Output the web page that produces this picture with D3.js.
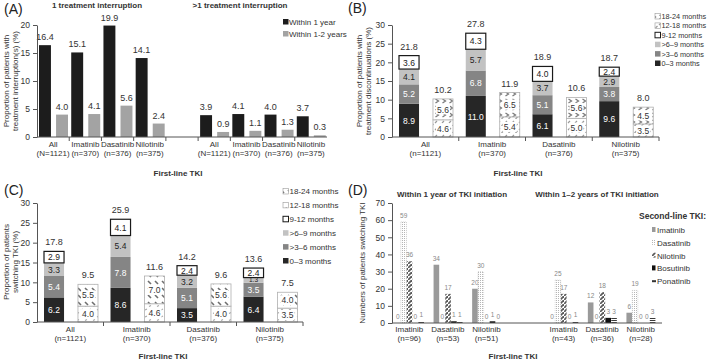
<!DOCTYPE html>
<html><head><meta charset="utf-8">
<script src="https://cdn.jsdelivr.net/npm/d3@7"></script>
<style>body{margin:0;background:#fff}svg{display:block}</style>
</head><body>
<script>
// ---------------- DATA ----------------
// Panel A
const aCategories = ["All","Imatinib","Dasatinib","Nilotinib"];
const aCategoryN = ["(N=1121)","(n=370)","(n=376)","(n=375)"];
const aPanels = ["1 treatment interruption", ">1 treatment interruption"];
const aSeries = ["Within 1 year","Within 1-2 years"];
const aOneWithin1y = [16.4,15.1,19.9,14.1];
const aOneWithin1to2y = [4.0,4.1,5.6,2.4];
const aMultiWithin1y = [3.9,4.1,4.0,3.7];
const aMultiWithin1to2y = [0.9,1.1,1.3,0.3];
const aYTicks = [0,5,10,15,20];

// Panels B and C
const bcCategories = ["All","Imatinib","Dasatinib","Nilotinib"];
const bcCategoryN = ["(n=1121)","(n=370)","(n=376)","(n=375)"];
const periods = ["0–3 months",">3–6 months",">6–9 months","9-12 months","12-18 months","18-24 months"];
const bcYTicks = [0,5,10,15,20,25,30];
// B: treatment discontinuations
const b0to3 = [8.9,11.0,6.1,9.6];
const b3to6 = [5.2,6.8,5.1,3.8];
const b6to9 = [4.1,5.7,3.7,2.9];
const b9to12 = [3.6,4.3,4.0,2.4];
const b12to18 = [4.6,5.4,5.0,3.5];
const b18to24 = [5.6,6.5,5.6,4.5];
const bTotal1y = [21.8,27.8,18.9,18.7];
const bTotal2y = [10.2,11.9,10.6,8.0];
// C: switching TKI
const c0to3 = [6.2,8.6,3.5,6.4];
const c3to6 = [5.4,7.8,5.1,3.5];
const c6to9 = [3.3,5.4,3.2,1.3];
const c9to12 = [2.9,4.1,2.4,2.4];
const c12to18 = [4.0,4.6,4.0,3.5];
const c18to24 = [5.5,7.0,5.6,4.0];
const cTotal1y = [17.8,25.9,14.2,13.6];
const cTotal2y = [9.5,11.6,9.6,7.5];

// Panel D
const dPanels = ["Within 1 year of TKI initiation","Within 1–2 years of TKI initiation"];
const dCategories = ["Imatinib","Dasatinib","Nilotinib"];
const dCategoryN1 = ["(n=96)","(n=53)","(n=51)"];
const dCategoryN2 = ["(n=43)","(n=36)","(n=28)"];
const secondLine = ["Imatinib","Dasatinib","Nilotinib","Bosutinib","Ponatinib"];
const dImatinib1y = [0,59,36,0,1];
const dDasatinib1y = [34,0,17,1,1];
const dNilotinib1y = [20,30,0,1,0];
const dImatinib2y = [0,25,17,0,1];
const dDasatinib2y = [12,0,18,3,3];
const dNilotinib2y = [6,19,0,0,3];
const dYTicks = [0,10,20,30,40,50,60,70];

// ---------------- SETUP ----------------
const FONT = "'Liberation Sans', Arial, Helvetica, sans-serif";
const W = 709, H = 360;
const svg = d3.select("body").append("svg").attr("width",W).attr("height",H)
  .attr("font-family",FONT);
const defs = svg.append("defs");
function pattern(id,w,h,draw){
  const p = defs.append("pattern").attr("id",id).attr("patternUnits","userSpaceOnUse")
    .attr("width",w).attr("height",h);
  p.append("rect").attr("width",w).attr("height",h).attr("fill","#fff");
  draw(p);
}
pattern("pB1218",7,7,p=>p.append("path").attr("d","M1,4 L3,2 M4.5,7 L6.5,5").attr("stroke","#9a9a9a").attr("stroke-width",1.2).attr("fill","none"));
pattern("pB1824",7,7,p=>p.append("path").attr("d","M1.5,1 L4.5,3 L1.5,5").attr("stroke","#7a7a7a").attr("stroke-width",1.3).attr("fill","none"));
pattern("pC1218",8,7,p=>p.append("path").attr("d","M1,2 L3,1 M5,5.5 L7,4.5").attr("stroke","#a8a8a8").attr("stroke-width",1.1).attr("fill","none"));
pattern("pC1824",7,7,p=>p.append("path").attr("d","M1,1 L4,4").attr("stroke","#6e6e6e").attr("stroke-width",1.6).attr("fill","none"));
pattern("pDdas",2,2,p=>p.append("rect").attr("width",1).attr("height",1).attr("fill","#b5b5b5"));
pattern("pDnil",4,4,p=>p.append("path").attr("d","M-1,5 L5,-1").attr("stroke","#5a5a5a").attr("stroke-width",1.8));
pattern("pDpon",3,2,p=>p.append("rect").attr("width",3).attr("height",1).attr("fill","#3a3a3a"));

function text(x,y,s,o={}){
  const t = svg.append("text").attr("x",x).attr("y",y).text(s)
    .attr("font-size",o.size||8.5).attr("fill",o.fill||"#333")
    .attr("text-anchor",o.anchor||"start");
  if(o.bold) t.attr("font-weight","bold");
  return t;
}
function vtext(x,y,s,o={}){
  return svg.append("text").attr("transform",`translate(${x},${y}) rotate(-90)`).text(s)
    .attr("font-size",o.size||8).attr("fill","#333").attr("text-anchor","middle");
}
function yAxis(y,ticks,x0){
  const g = svg.append("g").attr("transform",`translate(${x0},0)`)
    .call(d3.axisLeft(y).tickValues(ticks).tickSize(4).tickSizeOuter(0).tickPadding(3));
  g.select(".domain").attr("stroke","#555");
  g.selectAll(".tick line").attr("stroke","#555");
  g.selectAll(".tick text").attr("font-size",8.5).attr("fill","#333").attr("font-family",FONT);
}
function xAxisLine(x0,x1,yv,ticks){
  svg.append("line").attr("x1",x0).attr("x2",x1).attr("y1",yv).attr("y2",yv).attr("stroke","#555");
  ticks.forEach(t=>svg.append("line").attr("x1",t).attr("x2",t).attr("y1",yv).attr("y2",yv+4).attr("stroke","#555"));
}
function catLabel(cx,y0,l1,l2){
  text(cx,y0,l1,{anchor:"middle",size:8});
  text(cx,y0+9,l2,{anchor:"middle",size:8});
}
const f1 = d3.format(".1f");

// ---------------- PANEL A ----------------
(function(){
  const y = d3.scaleLinear().domain([0,20]).range([137,25]);
  const x = d3.scaleBand().domain(d3.range(9)).range([37,327]);
  const xs = d3.scaleBand().domain(aSeries).range([2,31]).paddingInner(0.3);
  const colors = ["#1c1c1c","#a3a3a3"];
  const groups = [[aOneWithin1y,aOneWithin1to2y],[aMultiWithin1y,aMultiWithin1to2y]];
  groups.forEach((grp,g)=>{
    aCategories.forEach((c,i)=>{
      const slot = g*5+i;
      grp.forEach((arr,k)=>{
        const v = arr[i];
        const bx = x(slot)+xs(aSeries[k]);
        svg.append("rect").attr("x",bx).attr("y",y(v)).attr("width",xs.bandwidth())
          .attr("height",y(0)-y(v)).attr("fill",colors[k]);
        text(bx+xs.bandwidth()/2,y(v)-5,f1(v),{anchor:"middle",size:9});
      });
      catLabel(x(slot)+x.bandwidth()/2,147,c,aCategoryN[i]);
    });
  });
  yAxis(y,aYTicks,37);
  const bounds = d3.range(1,9).map(i=>x(i));
  xAxisLine(37,327,137,bounds);
  text(97,8,aPanels[0],{anchor:"middle",bold:true,size:8});
  text(240,8,aPanels[1],{anchor:"middle",bold:true,size:8});
  text(4,14,"(A)",{size:14,fill:"#222"});
  vtext(9,81,"Proportion of patients with");
  vtext(18,81,"treatment interruption(s) (%)");
  text(178,176,"First-line TKI",{anchor:"middle",bold:true,size:8});
  aSeries.forEach((s,k)=>{
    svg.append("rect").attr("x",283).attr("y",19+k*12).attr("width",5.5).attr("height",5.5).attr("fill",colors[k]);
    text(289,25+k*12,s,{size:8});
  });
})();

// ---------------- PANELS B & C ----------------
function drawStacked(cfg){
  const y = d3.scaleLinear().domain([0,30]).range([cfg.yBottom,cfg.yTop]);
  const x = d3.scaleBand().domain(d3.range(4)).range([cfg.xLeft,cfg.xRight]);
  const xs = d3.scaleBand().domain(["y1","y2"]).range([7,61]).paddingInner(0.41);
  const bw = xs.bandwidth();
  const fills = ["#262626","#858585","#c2c2c2","#fff",`url(#${cfg.pats[0]})`,`url(#${cfg.pats[1]})`];
  const tfill = ["#fff","#fff","#222","#222","#222","#222"];
  bcCategories.forEach((c,i)=>{
    let cum = 0;
    const bx = x(i)+xs("y1");
    cfg.segs1.forEach((arr,k)=>{
      const v = arr[i];
      const r = svg.append("rect").attr("x",bx).attr("y",y(cum+v)).attr("width",bw)
        .attr("height",y(cum)-y(cum+v)).attr("fill",fills[k]);
      if(k===3) r.attr("stroke","#1a1a1a").attr("stroke-width",1.2);
      const small = v < 2;
      text(bx+bw/2,(y(cum)+y(cum+v))/2+(small?2.3:3.2),f1(v),{anchor:"middle",size:small?6.5:8.5,fill:tfill[k]});
      cum += v;
    });
    text(bx+bw/2,y(cfg.tot1[i])-6,f1(cfg.tot1[i]),{anchor:"middle",size:9});
    cum = 0;
    const bx2 = x(i)+xs("y2");
    cfg.segs2.forEach((arr,k)=>{
      const v = arr[i];
      svg.append("rect").attr("x",bx2).attr("y",y(cum+v)).attr("width",bw)
        .attr("height",y(cum)-y(cum+v)).attr("fill",fills[4+k])
        .attr("stroke","#b0b0b0").attr("stroke-width",0.8);
      const cy = (y(cum)+y(cum+v))/2;
      svg.append("rect").attr("x",bx2+bw/2-7).attr("y",cy-5).attr("width",14).attr("height",10).attr("fill","#fff");
      text(bx2+bw/2,cy+3.2,f1(v),{anchor:"middle",size:8.5});
      cum += v;
    });
    text(bx2+bw/2,y(cfg.tot2[i])-6,f1(cfg.tot2[i]),{anchor:"middle",size:9});
    catLabel(x(i)+x.bandwidth()/2,cfg.yBottom+10,c,bcCategoryN[i]);
  });
  yAxis(y,bcYTicks,cfg.xLeft);
  xAxisLine(cfg.xLeft,cfg.xRight,cfg.yBottom,d3.range(1,4).map(i=>x(i)).concat([cfg.xRight]));
  const order = [5,4,3,2,1,0];
  order.forEach((k,j)=>{
    const ly = cfg.legY + j*cfg.legStep;
    const r = svg.append("rect").attr("x",cfg.legX).attr("y",ly-5.5).attr("width",5.5).attr("height",5.5)
      .attr("fill",fills[k]);
    if(k===3) r.attr("stroke","#1a1a1a").attr("stroke-width",1);
    if(k>=4) r.attr("stroke","#999").attr("stroke-width",0.6);
    text(cfg.legX+6.5,ly,periods[k],{size:cfg.legSize});
  });
}
drawStacked({xLeft:392,xRight:659,yBottom:137,yTop:25,
  segs1:[b0to3,b3to6,b6to9,b9to12],segs2:[b12to18,b18to24],tot1:bTotal1y,tot2:bTotal2y,
  pats:["pB1218","pB1824"],legX:655,legY:19,legStep:9.4,legSize:7.3});
drawStacked({xLeft:37,xRight:303,yBottom:322,yTop:203,
  segs1:[c0to3,c3to6,c6to9,c9to12],segs2:[c12to18,c18to24],tot1:cTotal1y,tot2:cTotal2y,
  pats:["pC1218","pC1824"],legX:283,legY:194,legStep:13.9,legSize:8});
text(348,13,"(B)",{size:14,fill:"#222"});
vtext(362,81,"Proportion of patients with");
vtext(371,81,"treatment discontinuations (%)");
text(518,176,"First-line TKI",{anchor:"middle",bold:true,size:8});
text(4,195,"(C)",{size:14,fill:"#222"});
vtext(9,262,"Proportion of patients");
vtext(18,262,"switching TKI (%)");
text(163,359,"First-line TKI",{anchor:"middle",bold:true,size:8});

// ---------------- PANEL D ----------------
(function(){
  const y = d3.scaleLinear().domain([0,70]).range([323,203]);
  const x = d3.scaleBand().domain(d3.range(7)).range([390,660]);
  const xs = d3.scaleBand().domain(secondLine).range([5,34]).paddingInner(0.04);
  const bw = xs.bandwidth();
  const fills = ["#9a9a9a","url(#pDdas)","url(#pDnil)","#111","url(#pDpon)"];
  const data = [[dImatinib1y,dDasatinib1y,dNilotinib1y],[dImatinib2y,dDasatinib2y,dNilotinib2y]];
  const ns = [dCategoryN1,dCategoryN2];
  data.forEach((grp,g)=>{
    grp.forEach((arr,i)=>{
      const slot = g*4+i;
      arr.forEach((v,k)=>{
        const bx = x(slot)+xs(secondLine[k]);
        if(v>0){
          const r = svg.append("rect").attr("x",bx).attr("y",y(v)).attr("width",bw)
            .attr("height",y(0)-y(v)).attr("fill",fills[k]);
          if(k===1) r.attr("stroke","#c4c4c4").attr("stroke-width",0.6).attr("stroke-dasharray","1,1");
        }
        text(bx+bw/2,y(v)-4,String(v),{anchor:"middle",size:6.5,fill:"#888"});
      });
      catLabel(x(slot)+x.bandwidth()/2,332,dCategories[i],ns[g][i]);
    });
  });
  yAxis(y,dYTicks,392);
  xAxisLine(392,662,323,[]);
  text(452,197,dPanels[0],{anchor:"middle",bold:true,size:8});
  text(597,197,dPanels[1],{anchor:"middle",bold:true,size:8});
  text(348,195,"(D)",{size:14,fill:"#222"});
  vtext(365,263,"Numbers of patients switching TKI");
  text(513,359,"First-line TKI",{anchor:"middle",bold:true,size:8});
  text(639,219,"Second-line TKI:",{bold:true,size:8.5});
  secondLine.forEach((s,k)=>{
    const ly = 233 + k*12.8;
    svg.append("rect").attr("x",652).attr("y",k===4?ly-4:ly-6).attr("width",k===4?4:3.5).attr("height",k===4?2:5)
      .attr("fill",k===4?"#333":fills[k]);
    text(657,ly,s,{size:8});
  });
})();
</script>
</body></html>
